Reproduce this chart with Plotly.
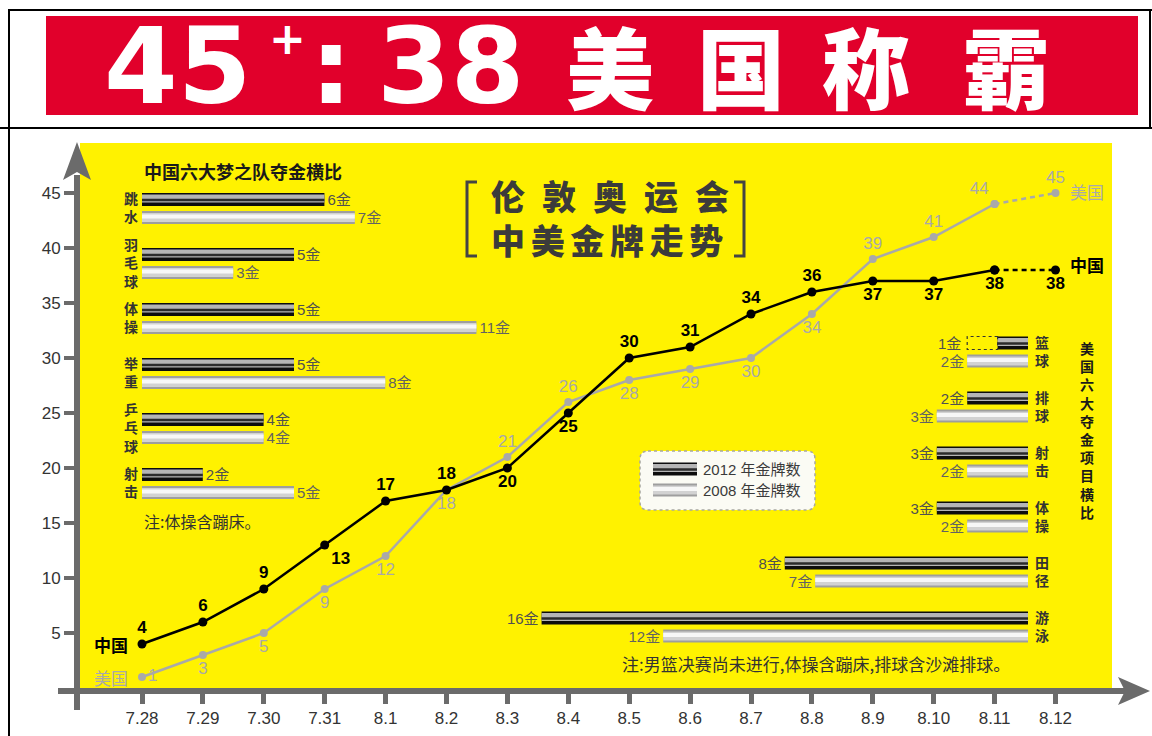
import plotly.graph_objects as go

W, H = 1152, 736


def px(x):
    return x / W


def py(y):
    return 1 - y / H


# ---------------- data ----------------
dates = ["7.28", "7.29", "7.30", "7.31", "8.1", "8.2", "8.3", "8.4",
         "8.5", "8.6", "8.7", "8.8", "8.9", "8.10", "8.11", "8.12"]
china_gold = [4, 6, 9, 13, 17, 18, 20, 25, 30, 31, 34, 36, 37, 37, 38, 38]
usa_gold = [1, 3, 5, 9, 12, 18, 21, 26, 28, 29, 30, 34, 39, 41, 44, 45]
gold_ticks = [5, 10, 15, 20, 25, 30, 35, 40, 45]

cn_sports = ["跳水", "羽毛球", "体操", "举重", "乒乓球", "射击"]
cn_2012 = [6, 5, 5, 5, 4, 2]
cn_2008 = [7, 3, 11, 8, 4, 5]

us_sports = ["篮球", "排球", "射击", "体操", "田径", "游泳"]
us_2012 = [1, 2, 3, 3, 8, 16]
us_2008 = [2, 3, 2, 2, 7, 12]
us_pending = [1, 0, 0, 0, 0, 0]   # men's basketball final not yet played

# ---------------- styles ----------------
CJK = "Noto Sans CJK SC"
LAT = "Liberation Sans"
MIX = "Liberation Sans, Noto Sans CJK SC"
AXIS_GRAY = "#6b6b6b"
US_GRAY = "#a9a9a9"
YELLOW = "#fff200"

china_text_pos = ["top center", "top center", "top center", "bottom right", "top center",
                  "top center", "bottom center", "bottom center", "top center", "top center",
                  "top center", "top center", "bottom center", "bottom center", "bottom center",
                  "bottom center"]
usa_text_pos = ["middle right", "bottom center", "bottom center", "bottom center", "bottom center",
                "bottom center", "top center", "top center", "bottom center", "bottom center",
                "bottom center", "bottom center", "top center", "top center", "top left",
                "top center"]

# main axis pixel mapping
X0, XSTEP = 142, 60.9
Y0, YSTEP = 688, 11.0
# inset mapping
GOLD_PX = 30.4
ROW_PX = 55.0
L_START = 142
R_END = 1028
L_ROW0 = 208.5
R_ROW0 = 352

fig = go.Figure()

# ---------------- main lines ----------------
n = len(dates)
idx = list(range(n))
last = n - 1

fig.add_trace(go.Scatter(
    x=idx[:last], y=usa_gold[:last], mode="lines+markers+text",
    line=dict(color=US_GRAY, width=2.5), marker=dict(color=US_GRAY, size=8),
    text=[str(v) for v in usa_gold[:last]], textposition=usa_text_pos[:last],
    textfont=dict(family=LAT, size=17, color=US_GRAY), cliponaxis=False,
    hoverinfo="skip", showlegend=False))
fig.add_trace(go.Scatter(
    x=idx[last - 1:], y=usa_gold[last - 1:], mode="lines+markers+text",
    line=dict(color=US_GRAY, width=2.5, dash="5px,4px"), marker=dict(color=US_GRAY, size=8),
    text=["", str(usa_gold[last])], textposition=usa_text_pos[last - 1:],
    textfont=dict(family=LAT, size=17, color=US_GRAY), cliponaxis=False,
    hoverinfo="skip", showlegend=False))
fig.add_trace(go.Scatter(
    x=idx[:last], y=china_gold[:last], mode="lines+markers+text",
    line=dict(color="#000000", width=2.5), marker=dict(color="#000000", size=9),
    text=["<b>%d</b>" % v for v in china_gold[:last]], textposition=china_text_pos[:last],
    textfont=dict(family=LAT, size=17, color="#000000"), cliponaxis=False,
    hoverinfo="skip", showlegend=False))
fig.add_trace(go.Scatter(
    x=idx[last - 1:], y=china_gold[last - 1:], mode="lines+markers+text",
    line=dict(color="#000000", width=2.5, dash="5px,4px"), marker=dict(color="#000000", size=9),
    text=["", "<b>%d</b>" % china_gold[last]], textposition=china_text_pos[last - 1:],
    textfont=dict(family=LAT, size=17, color="#000000"), cliponaxis=False,
    hoverinfo="skip", showlegend=False))

# ---------------- inset bars ----------------
BLACK_LAYERS = [(13, "#0d0d0d", 0), (8, "#b5b5b5", -1), (2.5, "#2b2b2b", 0.5)]
GRAY_LAYERS = [(13, "#9e9e9e", 0), (9, "#d2d2d2", 0), (4, "#f7f7f7", -1)]


def add_bars(values, shift_px, layers, xa, ya, texts, textcolor):
    for k, (th, col, sh) in enumerate(layers):
        fig.add_trace(go.Bar(
            x=values, y=[i + (shift_px + sh) / ROW_PX for i in range(len(values))],
            width=th / ROW_PX, orientation="h",
            marker=dict(color=col, line=dict(width=0)),
            xaxis=xa, yaxis=ya,
            text=texts if k == 0 else None,
            textposition="outside" if k == 0 else "none",
            textfont=dict(family=MIX, size=15, color=textcolor),
            constraintext="none", cliponaxis=False,
            hoverinfo="skip", showlegend=False))


add_bars(cn_2012, -9, BLACK_LAYERS, "x2", "y2", ["%d金" % v for v in cn_2012], "#505050")
add_bars(cn_2008, 9, GRAY_LAYERS, "x2", "y2", ["%d金" % v for v in cn_2008], "#626262")
add_bars(us_2012, -9, BLACK_LAYERS, "x3", "y3",
         ["" if p else "%d金" % v for v, p in zip(us_2012, us_pending)], "#505050")
add_bars(us_2008, 9, GRAY_LAYERS, "x3", "y3", ["%d金" % v for v in us_2008], "#626262")

shapes = []
annotations = []

# pending (dashed) part of US basketball
for i, (v, p) in enumerate(zip(us_2012, us_pending)):
    if p:
        shapes.append(dict(type="rect", xref="x3", yref="y3", x0=v, x1=v + p,
                           y0=i + (-9 - 6.5) / ROW_PX, y1=i + (-9 + 6.5) / ROW_PX,
                           line=dict(color="#333333", width=1.2, dash="dot"),
                           fillcolor="rgba(0,0,0,0)", layer="above"))
        annotations.append(dict(xref="x3", yref="y3", x=v + p, y=i - 9 / ROW_PX,
                                text="%d金" % v, showarrow=False, xanchor="right", xshift=-4,
                                font=dict(family=MIX, size=15, color="#505050")))

# ---------------- background shapes ----------------
shapes[:0] = [
    # yellow panel
    dict(type="rect", xref="paper", yref="paper", x0=px(80), x1=px(1112), y0=py(688), y1=py(143),
         fillcolor=YELLOW, line=dict(width=0), layer="below"),
    # red banner
    dict(type="rect", xref="paper", yref="paper", x0=px(46), x1=px(1138), y0=py(115), y1=py(16),
         fillcolor="#e1002b", line=dict(width=0), layer="below"),
]
# frame lines
for (xa_, ya_, xb_, yb_) in [(8, 10, 1152, 10), (0, 128, 1152, 128), (9, 10, 9, 736), (1150, 10, 1150, 128)]:
    shapes.append(dict(type="line", xref="paper", yref="paper", x0=px(xa_), y0=py(ya_),
                       x1=px(xb_), y1=py(yb_), line=dict(color="#000000", width=2), layer="above"))

# axis arrowheads
shapes.append(dict(type="path", xref="paper", yref="paper",
                   path="M %f %f L %f %f L %f %f L %f %f Z" % (px(1118), py(677), px(1150), py(691),
                                                               px(1118), py(705), px(1125), py(691)),
                   fillcolor=AXIS_GRAY, line=dict(width=0)))
shapes.append(dict(type="path", xref="paper", yref="paper",
                   path="M %f %f L %f %f L %f %f L %f %f Z" % (px(63), py(180), px(77), py(142),
                                                               px(91), py(180), px(77), py(172)),
                   fillcolor=AXIS_GRAY, line=dict(width=0)))

# subtitle brackets
shapes.append(dict(type="path", xref="paper", yref="paper",
                   path="M %f %f L %f %f L %f %f L %f %f" % (px(477), py(182), px(467), py(182),
                                                             px(467), py(256), px(477), py(256)),
                   line=dict(color="#444444", width=3)))
shapes.append(dict(type="path", xref="paper", yref="paper",
                   path="M %f %f L %f %f L %f %f L %f %f" % (px(734), py(182), px(744), py(182),
                                                             px(744), py(256), px(734), py(256)),
                   line=dict(color="#444444", width=3)))

# legend box (rounded, dashed)
lx0, lx1, ly0, ly1, r = 640, 815, 451, 510, 8
legend_path = ("M %f %f L %f %f Q %f %f %f %f L %f %f Q %f %f %f %f L %f %f Q %f %f %f %f L %f %f Q %f %f %f %f Z" % (
    px(lx0 + r), py(ly0), px(lx1 - r), py(ly0), px(lx1), py(ly0), px(lx1), py(ly0 + r),
    px(lx1), py(ly1 - r), px(lx1), py(ly1), px(lx1 - r), py(ly1),
    px(lx0 + r), py(ly1), px(lx0), py(ly1), px(lx0), py(ly1 - r),
    px(lx0), py(ly0 + r), px(lx0), py(ly0), px(lx0 + r), py(ly0)))
shapes.append(dict(type="path", xref="paper", yref="paper", path=legend_path,
                   fillcolor="#fbfbf4", line=dict(color="#a8a8a0", width=1.5, dash="dot")))
for cy, layers in [(469, BLACK_LAYERS), (490, GRAY_LAYERS)]:
    for th, col, sh in layers:
        shapes.append(dict(type="rect", xref="paper", yref="paper", x0=px(653), x1=px(697),
                           y0=py(cy + sh + th / 2), y1=py(cy + sh - th / 2),
                           fillcolor=col, line=dict(width=0)))


# ---------------- text ----------------
def ann(x, y, text, size, color, family=CJK, xanchor="center", yanchor="middle", weight=None,
        align="center"):
    font = dict(family=family, size=size, color=color)
    if weight:
        font["weight"] = weight
    annotations.append(dict(xref="paper", yref="paper", x=px(x), y=py(y), text=text,
                            showarrow=False, xanchor=xanchor, yanchor=yanchor, font=font,
                            align=align))


# banner
ann(178, 66, "<b>45</b>", 106, "#ffffff", family="DejaVu Sans")
ann(287, 39, "<b>+</b>", 44, "#ffffff", family="DejaVu Sans")
ann(331, 66, "<b>:</b>", 106, "#ffffff", family="DejaVu Sans")
ann(451, 66, "<b>38</b>", 106, "#ffffff", family="DejaVu Sans")
for ch, cx in zip("美国称霸", [610, 741, 866, 1006]):
    ann(cx, 64, ch, 88, "#ffffff", weight=900)

# subtitle (two lines, letter-spaced)
sub1 = "\u2002".join("伦敦奥运会")
sub2 = "\u2006".join("中美金牌走势")
ann(489, 217, "%s<br>%s" % (sub1, sub2), 34, "#3b3b3b", xanchor="left", weight=900, align="left")

# inset titles and notes
ann(142, 171, "<b>中国六大梦之队夺金横比</b>", 18, "#1a1a1a", xanchor="left")
ann(1087, 430, "<br>".join("<b>%s</b>" % c for c in "美国六大夺金项目横比"), 14, "#1a1a1a")
ann(142, 521, "注:体操含蹦床。", 16, "#333333", xanchor="left")
ann(620, 663, "注:男篮决赛尚未进行,体操含蹦床,排球含沙滩排球。", 17, "#333333", xanchor="left")

# legend text
ann(701, 469, "2012 年金牌数", 15, "#3a3a3a", family=MIX, xanchor="left")
ann(701, 490, "2008 年金牌数", 15, "#3a3a3a", family=MIX, xanchor="left")

# series names
annotations.append(dict(xref="x", yref="y", x=0, y=china_gold[0], text="<b>中国</b>", showarrow=False,
                        xanchor="right", xshift=-12, font=dict(family=CJK, size=17, color="#000000")))
annotations.append(dict(xref="x", yref="y", x=0, y=usa_gold[0], text="美国", showarrow=False,
                        xanchor="right", xshift=-12, font=dict(family=CJK, size=17, color=US_GRAY)))
annotations.append(dict(xref="x", yref="y", x=last, y=china_gold[last], text="<b>中国</b>",
                        showarrow=False, xanchor="left", xshift=12, yshift=6,
                        font=dict(family=CJK, size=17, color="#000000")))
annotations.append(dict(xref="x", yref="y", x=last, y=usa_gold[last], text="美国", showarrow=False,
                        xanchor="left", xshift=12, yshift=2,
                        font=dict(family=CJK, size=17, color=US_GRAY)))


def stacked(name):
    return "<br>".join("<b>%s</b>" % c for c in name)


fig.update_layout(
    width=W, height=H, autosize=False,
    margin=dict(l=0, r=0, t=0, b=0),
    paper_bgcolor="#ffffff", plot_bgcolor="rgba(0,0,0,0)",
    barmode="overlay", showlegend=False,
    shapes=shapes, annotations=annotations,
    xaxis=dict(domain=[px(58), px(1125)],
               range=[(58 - X0) / XSTEP, (1125 - X0) / XSTEP],
               anchor="free", position=py(691),
               showline=True, linecolor=AXIS_GRAY, linewidth=6,
               ticks="outside", ticklen=10, tickwidth=5, tickcolor=AXIS_GRAY,
               tickvals=idx, ticktext=dates,
               tickfont=dict(family=LAT, size=17, color="#333333"),
               showgrid=False, zeroline=False, fixedrange=True),
    yaxis=dict(domain=[py(710), py(175)],
               range=[(Y0 - 710) / YSTEP, (Y0 - 175) / YSTEP],
               anchor="free", position=px(77),
               showline=True, linecolor=AXIS_GRAY, linewidth=6,
               ticks="outside", ticklen=10, tickwidth=4, tickcolor=AXIS_GRAY,
               tickvals=gold_ticks,
               tickfont=dict(family=LAT, size=17, color="#333333"),
               showgrid=False, zeroline=False, fixedrange=True),
    xaxis2=dict(domain=[0, 1], range=[(0 - L_START) / GOLD_PX, (W - L_START) / GOLD_PX],
                anchor="y2", visible=False, fixedrange=True),
    yaxis2=dict(domain=[0, 1], range=[(H - L_ROW0) / ROW_PX, (0 - L_ROW0) / ROW_PX],
                anchor="free", position=px(138), side="left",
                showline=False, ticks="", showgrid=False, zeroline=False,
                tickvals=list(range(len(cn_sports))), ticktext=[stacked(s) for s in cn_sports],
                tickfont=dict(family=CJK, size=14, color="#333333"), fixedrange=True),
    xaxis3=dict(domain=[0, 1], range=[R_END / GOLD_PX, (R_END - W) / GOLD_PX],
                anchor="y3", visible=False, fixedrange=True),
    yaxis3=dict(domain=[0, 1], range=[(H - R_ROW0) / ROW_PX, (0 - R_ROW0) / ROW_PX],
                anchor="free", position=px(1034), side="right",
                showline=False, ticks="", showgrid=False, zeroline=False,
                tickvals=list(range(len(us_sports))), ticktext=[stacked(s) for s in us_sports],
                tickfont=dict(family=CJK, size=14, color="#333333"), fixedrange=True),
)

fig.write_html("out.html")
